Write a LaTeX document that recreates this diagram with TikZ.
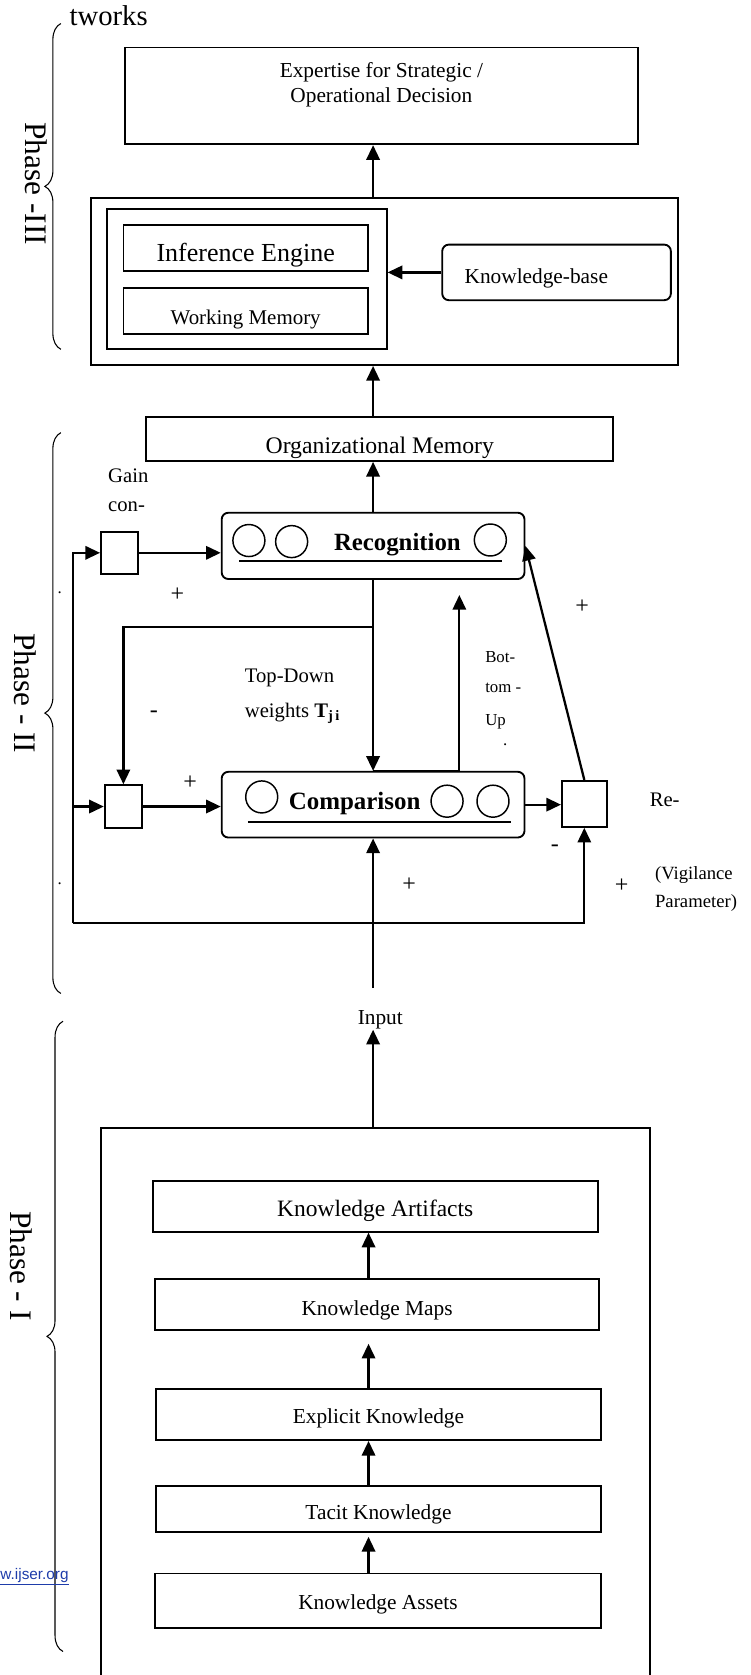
\documentclass[tikz,border=0pt]{standalone}
\usepackage{fontspec}
\setmainfont{Liberation Serif}
\newfontfamily\sitefont{Liberation Sans}
\usetikzlibrary{arrows.meta, positioning, calc, decorations.pathreplacing}
\definecolor{ijser}{RGB}{30,60,170}

\begin{document}
\begin{tikzpicture}[
	x=0.8012pt, y=-0.8012pt,
	kbox/.style={rectangle, draw, line width=1.4pt, inner sep=0pt, align=center,
		font=\fontsize{16}{18.8}\selectfont},
	kround/.style={kbox, rounded corners=5pt},
	neuron/.style={circle, draw, line width=1.1pt, minimum size=24pt, inner sep=0pt},
	arrow/.style={-{Triangle[length=11pt, width=10pt]}, line width=1.7pt},
	phaselbl/.style={rotate=-90, inner sep=0pt, font=\fontsize{23.5}{28}\selectfont},
	phasebrace/.style={decorate, decoration={brace, amplitude=12pt}, line width=0.8pt},
	sign/.style={inner sep=0pt, font=\fontsize{18}{20}\selectfont},
	annot/.style={inner sep=0pt, font=\fontsize{15.5}{18}\selectfont},
	tinylbl/.style={inner sep=0pt, font=\fontsize{12.6}{15}\selectfont}
	]
	\useasboundingbox (0,0) rectangle (703,1568);
	\clip (0,0) rectangle (703,1568);

	% --- Phase III: expert system ---
	\node[annot, anchor=west, font=\fontsize{21.5}{24}\selectfont] (cut) at (65,14.5) {tworks};
	\node[kbox, minimum width=384.6pt, minimum height=72.5pt, text depth=20.7pt] (expert) at (357,89.75)
		{Expertise for Strategic /\\ Operational Decision};
	\node[kbox, minimum width=440.3pt, minimum height=125.5pt] (kbsys) at (359.75,263.35) {};
	\node[kbox, minimum width=209.9pt, minimum height=105.5pt] (ieframe) at (231,261.15) {};
	\node[kbox, minimum width=183.2pt, minimum height=34.3pt, text height=21.5pt, text depth=1.3pt,
		font=\fontsize{19.5}{22}\selectfont] (ie) at (230,232) {Inference Engine};
	\node[kbox, minimum width=183.2pt, minimum height=34.5pt, text height=20pt, text depth=0.8pt,
		font=\fontsize{15.7}{18}\selectfont] (wm) at (230,291.5) {Working Memory};
	\node[kround, minimum width=171.5pt, minimum height=41.7pt, text width=137.9pt, inner xsep=16.8pt,
		align=left, text height=19pt, text depth=2pt] (kb) at (521,255) {Knowledge-base};
	\node[phaselbl] (ph3) at (34,172) {Phase -III};
	\draw[phasebrace] (57,327) -- (57,22);

	% --- Phase II: ART network ---
	\node[kbox, minimum width=350.1pt, minimum height=32.8pt, text height=22pt, text depth=1pt,
		font=\fontsize{17.8}{20}\selectfont] (orgmem) at (355.5,411) {Organizational Memory};
	\node[kround, minimum width=227.1pt, minimum height=49.7pt] (recog) at (349.25,511) {};
	\node[neuron] (r1) at (233,506) {};
	\node[neuron] (r2) at (273,507) {};
	\node[neuron] (r3) at (459,505.5) {};
	\node[inner sep=0pt, font=\bfseries\fontsize{18.6}{21}\selectfont] (recogtxt) at (372,510) {Recognition};
	\draw[line width=1.1pt] (224,525) -- (470,525);

	\node[kround, minimum width=227.1pt, minimum height=49.3pt] (comp) at (349.25,753.25) {};
	\node[neuron] (c1) at (245,746) {};
	\node[neuron] (c2) at (418.5,750) {};
	\node[neuron] (c3) at (461.5,750) {};
	\node[inner sep=0pt, font=\bfseries\fontsize{18.7}{21}\selectfont] (comptxt) at (332,752.5) {Comparison};
	\draw[line width=1.1pt] (232,769.5) -- (478.5,769.5);

	\node[kbox, minimum width=27.6pt, minimum height=31.2pt] (gaina) at (111.75,517.5) {};
	\node[kbox, minimum width=28pt, minimum height=32pt] (gainb) at (115.5,755) {};
	\node[kbox, minimum width=33.6pt, minimum height=34.5pt] (reset) at (547,752.5) {};

	\node[annot, anchor=west] (gain) at (101,445) {Gain};
	\node[annot, anchor=west] (gaincon) at (101,474.5) {con-};
	\node[annot, anchor=west] (tdown) at (229,635) {Top-Down};
	\node[annot, anchor=west] (tweights) at (229,667.6) {weights \textbf{T\textsubscript{j\,i}}};
	\node[tinylbl, anchor=west] (bu1) at (454,615) {Bot-};
	\node[tinylbl, anchor=west] (bu2) at (454,644) {tom -};
	\node[tinylbl, anchor=west] (bu3) at (454,676) {Up};
	\node[tinylbl] (bu4) at (473,697) {.};
	\node[annot, anchor=west] (re) at (608,749) {Re-};
	\node[annot, anchor=west, font=\fontsize{14}{16}\selectfont] (vig1) at (613,819) {(Vigilance};
	\node[annot, anchor=west, font=\fontsize{14}{16}\selectfont] (vig2) at (613,845) {Parameter)};

	\node[sign] (s1) at (166,557) {+};
	\node[sign] (s2) at (545,568) {+};
	\node[sign] (s3) at (144,669) {-};
	\node[sign] (s4) at (178,733) {+};
	\node[sign] (s5) at (519.5,794) {-};
	\node[sign] (s6) at (383,828) {+};
	\node[sign] (s7) at (582,829) {+};
	\node[tinylbl] (d1) at (56,555) {.};
	\node[tinylbl] (d2) at (56,827) {.};

	\node[annot, font=\fontsize{16}{18}\selectfont] (input) at (356,955) {Input};
	\node[phaselbl] (ph2) at (24,649) {Phase - II};
	\draw[phasebrace] (57,930) -- (57,405);

	% --- Phase I: knowledge stack ---
	\node[kbox, minimum width=411.8pt, minimum height=435.9pt] (stack) at (351.5,1328) {};
	\node[kbox, minimum width=333.7pt, minimum height=38pt, text height=15.3pt, text depth=0.8pt,
		font=\fontsize{17.6}{20}\selectfont] (ka) at (351.25,1129.3) {Knowledge Artifacts};
	\node[kbox, minimum width=333.3pt, minimum height=38.5pt, text height=17.2pt, text depth=0.8pt] (km) at (353,1221) {Knowledge Maps};
	\node[kbox, minimum width=333.8pt, minimum height=38.5pt, text height=14.6pt, text depth=0.8pt] (ek) at (354.3,1324) {Explicit Knowledge};
	\node[kbox, minimum width=333.8pt, minimum height=34.5pt, text height=17pt, text depth=0.8pt] (tk) at (354.3,1412.5) {Tacit Knowledge};
	\node[kbox, minimum width=334.6pt, minimum height=40.9pt, text height=14pt, text depth=0.8pt] (kas) at (353.8,1498.5) {Knowledge Assets};
	\node[phaselbl] (ph1) at (19.5,1185) {Phase - I};
	\draw[phasebrace] (59,1546) -- (59,956);
	\node[anchor=east, inner sep=0pt, text=ijser, font=\sitefont\fontsize{11.5}{13}\selectfont] (site) at (64.5,1476) {\underline{www.ijser.org}};

	% --- connectors ---
	\coordinate (tdsplit) at (349.25,587);
	\coordinate (bupeak) at (430,557);
	\coordinate (loopbl) at (68,864);
	\coordinate (inlow) at (349.25,925);
	\coordinate (kaxis) at (345,1100);

	\draw[arrow] (kb.west) -- (kb.west -| ieframe.east);
	\draw[arrow] (kbsys.north -| recog) -- (expert.south -| recog);
	\draw[arrow] (orgmem.north -| recog) -- (kbsys.south -| recog);
	\draw[arrow] (recog.north) -- (orgmem.south -| recog);

	\draw[arrow] (recog.south) -- (comp.north);
	\draw[arrow] (tdsplit) -| (gainb.north);
	\draw[arrow] (comp.north) -| (bupeak);
	\draw[arrow] (reset.north) -- (recog.east);
	\draw[arrow] (gaina.east) -- (gaina.east -| recog.west);
	\draw[arrow] (gainb.east) -- (gainb.east -| comp.west);
	\draw[arrow] (comp.east) -- (comp.east -| reset.west);
	\draw[arrow] (loopbl) |- (gaina.west);
	\draw[arrow] (loopbl |- gainb.west) -- (gainb.west);
	\draw[arrow] (loopbl) -| (reset.south);
	\draw[arrow] (inlow) -- (comp.south);
	\draw[arrow] (stack.north -| recog) -- (input.south -| recog);

	\draw[arrow] (km.north -| kaxis) -- (ka.south -| kaxis);
	\draw[arrow, shorten >=9.6pt] (ek.north -| kaxis) -- (km.south -| kaxis);
	\draw[arrow] (tk.north -| kaxis) -- (ek.south -| kaxis);
	\draw[arrow, shorten >=3pt] (kas.north -| kaxis) -- (tk.south -| kaxis);
\end{tikzpicture}
\end{document}
